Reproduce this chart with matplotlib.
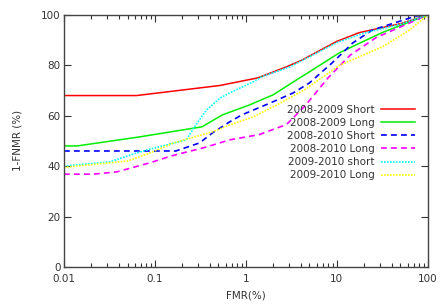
import numpy as np
import matplotlib
matplotlib.use('Agg')
import matplotlib.pyplot as plt
from matplotlib.ticker import LogLocator, NullFormatter, FixedLocator

# curves (FMR %, 1-FNMR %)
short_0809_x = [0.01, 0.063, 0.52, 1.35, 2.8, 4.1, 10, 17.8, 50, 100]
short_0809_y = [68, 68, 72, 75, 79.4, 82, 89.5, 93, 96.5, 100]

long_0809_x = [0.01, 0.014, 0.068, 0.33, 0.55, 1.1, 2.0, 3.6, 5.0, 10.7, 31.6, 100]
long_0809_y = [48, 48, 51.6, 55.6, 60.3, 64.3, 68.3, 74.2, 77.4, 85, 93, 100]

short_0810_x = [0.01, 0.17, 0.31, 0.43, 0.66, 0.9, 1.84, 3.3, 5.0, 9.1, 15, 24.6, 75, 100]
short_0810_y = [46, 46, 49.2, 53.2, 57.5, 60.3, 65, 69, 73, 81.3, 88.9, 94, 99.6, 100]

long_0810_x = [0.01, 0.021, 0.038, 0.088, 0.15, 0.37, 0.66, 1.4, 2.8, 4.5, 8, 14, 27, 63, 100]
long_0810_y = [36.8, 36.8, 37.7, 41.3, 44, 47.6, 50.4, 52.5, 56.5, 64, 75, 84, 91, 96.8, 100]

short_0910_x = [0.01, 0.032, 0.068, 0.11, 0.22, 0.29, 0.37, 0.52, 0.66, 1.2, 1.5, 3, 10, 20, 50, 100]
short_0910_y = [40, 41.7, 45.6, 47.6, 50.4, 57, 62.3, 67, 69, 73.4, 75.5, 79.3, 89, 92.8, 96.3, 100]

long_0910_x = [0.01, 0.032, 0.05, 0.088, 0.16, 0.43, 0.66, 1.2, 2.2, 4.5, 10.7, 31.6, 63, 100]
long_0910_y = [39.5, 41.3, 42, 45.2, 49.2, 53.6, 56.3, 59.5, 64.3, 70.5, 80, 87.3, 94, 100]

labels = ['2008-2009 Short', '2008-2009 Long', '2008-2010 Short',
          '2008-2010 Long', '2009-2010 short', '2009-2010 Long']

txt = '#333333'
fig = plt.figure(figsize=(4.41, 3.04), dpi=100)
ax = fig.add_axes([0.145, 0.122, 0.825, 0.829])

ax.plot(short_0809_x, short_0809_y, color='#ff0000', lw=1.1, label=labels[0])
ax.plot(long_0809_x, long_0809_y, color='#00ee00', lw=1.1, label=labels[1])
ax.plot(short_0810_x, short_0810_y, color='#0000ff', lw=1.2, ls=(0, (3.5, 2.5)), label=labels[2])
ax.plot(long_0810_x, long_0810_y, color='#ff00ff', lw=1.2, ls=(0, (3.5, 2.5)), label=labels[3])
ax.plot(short_0910_x, short_0910_y, color='#00ffff', lw=1.2, ls=(0, (1, 0.8)), label=labels[4])
ax.plot(long_0910_x, long_0910_y, color='#ffff00', lw=1.2, ls=(0, (1, 0.8)), label=labels[5])

ax.set_xscale('log')
ax.set_xlim(0.01, 100)
ax.set_ylim(0, 100)
ax.xaxis.set_major_locator(FixedLocator([0.01, 0.1, 1, 10, 100]))
ax.set_xticklabels(['0.01', '0.1', '1', '10', '100'])
ax.xaxis.set_minor_locator(LogLocator(base=10, subs=np.arange(2, 10), numticks=20))
ax.xaxis.set_minor_formatter(NullFormatter())
ax.set_yticks([0, 20, 40, 60, 80, 100])

ax.tick_params(which='both', direction='in', top=True, right=True,
               colors=txt, labelsize=7.5, width=0.8)
ax.tick_params(which='major', length=5)
ax.tick_params(which='minor', length=3)
ax.tick_params(axis='x', which='major', pad=5)
ax.tick_params(axis='y', which='major', pad=2.5)
for s in ax.spines.values():
    s.set_color('#444444')
    s.set_linewidth(1.0)

ax.set_xlabel('FMR(%)', fontsize=7.5, color=txt, labelpad=5)
ax.set_ylabel('1-FNMR (%)', fontsize=7.5, color=txt, labelpad=13)

ax.legend(loc='upper right', bbox_to_anchor=(0.975, 0.66), frameon=False,
          markerfirst=False, fontsize=7.5, labelspacing=0.3, handlelength=3.2,
          handletextpad=0.6, borderaxespad=0, labelcolor=txt)

fig.savefig('out.png', dpi=100)
